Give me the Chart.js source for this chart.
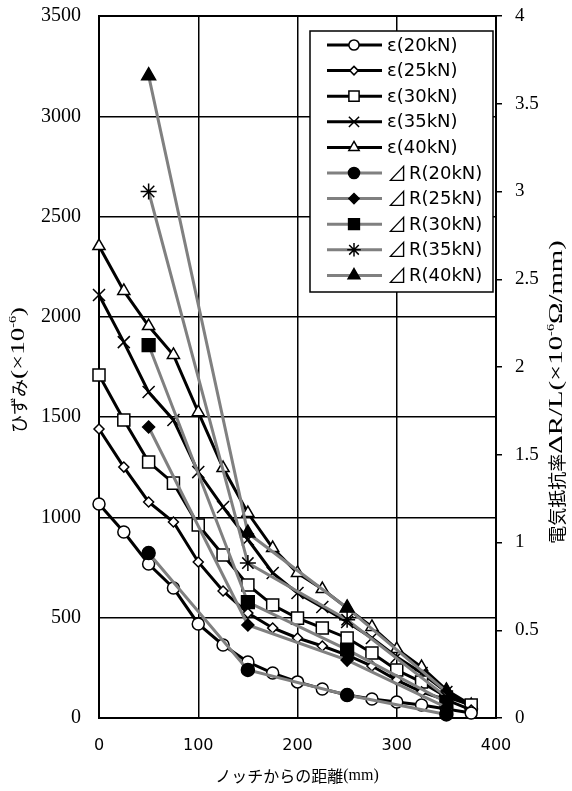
<!DOCTYPE html>
<html>
<head>
<meta charset="utf-8">
<script src="https://cdn.jsdelivr.net/npm/chart.js@4.4.0/dist/chart.umd.min.js"></script>
<style>
  html, body { margin: 0; padding: 0; background: #fff; }
</style>
</head>
<body>
<canvas id="chart" width="572" height="791"></canvas>
<script>
// jarak dari takik (mm)
const distEps = [0, 25, 50, 75, 100, 125, 150, 175, 200, 225, 250, 275, 300, 325, 350, 375];
const distR = [50, 150, 250, 350];

// regangan (x10^-6), sumbu kiri
const eps20 = [1067, 927, 768, 648, 469, 364, 279, 224, 180, 145, 115, 95, 80, 65, 45, 25];
const eps25 = [1441, 1251, 1077, 977, 778, 633, 523, 449, 399, 359, 314, 259, 189, 130, 90, 40];
const eps30 = [1710, 1486, 1276, 1171, 962, 813, 663, 563, 498, 449, 399, 324, 239, 179, 105, 65];
const eps35 = [2109, 1874, 1625, 1486, 1226, 1052, 890, 723, 623, 553, 479, 399, 304, 224, 130, 55];
const eps40 = [2353, 2129, 1954, 1810, 1525, 1246, 1022, 847, 723, 643, 548, 454, 344, 254, 140, 65];

// resistivitas dR/L (x10^-6 ohm/mm), sumbu kanan
const r20 = [0.94, 0.274, 0.131, 0.02];
const r25 = [1.658, 0.53, 0.33, 0.06];
const r30 = [2.125, 0.66, 0.39, 0.09];
const r35 = [3.0, 0.883, 0.56, 0.12];
const r40 = [3.66, 1.054, 0.627, 0.15];

const epsLabels = ['ε(20kN)', 'ε(25kN)', 'ε(30kN)', 'ε(35kN)', 'ε(40kN)'];
const rLabels = ['⊿R(20kN)', '⊿R(25kN)', '⊿R(30kN)', '⊿R(35kN)', '⊿R(40kN)'];

const leftTicks = [0, 500, 1000, 1500, 2000, 2500, 3000, 3500];
const rightTicks = [0, 0.5, 1, 1.5, 2, 2.5, 3, 3.5, 4];
const xTicks = [0, 100, 200, 300, 400];

const CJK = '"Noto Sans CJK JP"';
const SERIF = '"Liberation Serif"';
const SANS = '"DejaVu Sans"';

function toPoints(xs, ys) {
    return xs.map((x, i) => ({ x: x, y: ys[i] }));
}

function epsSet(label, data, style, radius) {
    return {
        label, data: toPoints(distEps, data), yAxisID: 'y', order: 1,
        borderColor: '#000', borderWidth: 3, pointStyle: style, pointRadius: radius,
        pointBackgroundColor: '#fff', pointBorderColor: '#000', pointBorderWidth: 1.5,
        pointHoverRadius: radius, tension: 0, clip: false
    };
}

function rSet(label, data, style, radius) {
    return {
        label, data: toPoints(distR, data), yAxisID: 'y2', order: 0,
        borderColor: '#808080', borderWidth: 3, pointStyle: style, pointRadius: radius,
        pointBackgroundColor: '#000', pointBorderColor: '#000', pointBorderWidth: 1.5,
        pointHoverRadius: radius, tension: 0, clip: false
    };
}

const datasets = [
    epsSet(epsLabels[0], eps20, 'circle', 6),
    epsSet(epsLabels[1], eps25, 'rectRot', 5),
    epsSet(epsLabels[2], eps30, 'rect', 8.5),
    epsSet(epsLabels[3], eps35, 'crossRot', 8.5),
    epsSet(epsLabels[4], eps40, 'triangle', 7),
    rSet(rLabels[0], r20, 'circle', 6.5),
    rSet(rLabels[1], r25, 'rectRot', 6),
    rSet(rLabels[2], r30, 'rect', 9),
    rSet(rLabels[3], r35, 'star', 8),
    rSet(rLabels[4], r40, 'triangle', 8)
];

// teks campuran (CJK + serif + superskrip), sx = regangan horizontal
function drawRich(ctx, parts, cx, cy, rot) {
    ctx.save();
    ctx.translate(cx, cy);
    ctx.rotate(rot);
    ctx.textBaseline = 'middle';
    ctx.textAlign = 'left';
    ctx.fillStyle = '#000';
    let total = 0;
    parts.forEach(p => {
        ctx.font = p.f;
        p.w = ctx.measureText(p.t).width * (p.sx || 1);
        total += p.w;
    });
    let x = -total / 2;
    parts.forEach(p => {
        ctx.save();
        ctx.font = p.f;
        ctx.translate(x, p.dy || 0);
        ctx.scale(p.sx || 1, 1);
        ctx.fillText(p.t, 0, 0);
        ctx.restore();
        x += p.w;
    });
    ctx.restore();
}

const framePlugin = {
    id: 'frame',
    beforeDatasetsDraw(chart) {
        const { ctx, chartArea: a } = chart;
        ctx.save();
        ctx.strokeStyle = '#000';
        ctx.lineWidth = 2;
        ctx.strokeRect(a.left, a.top, a.right - a.left, a.bottom - a.top);
        ctx.restore();
    }
};

const titlePlugin = {
    id: 'axisTitles',
    afterDraw(chart) {
        const ctx = chart.ctx;
        drawRich(ctx, [
            { t: 'ノッチからの距離', f: '16px ' + CJK },
            { t: '(mm)', f: '16px ' + SERIF }
        ], 297, 776, 0);
        drawRich(ctx, [
            { t: 'ひずみ', f: '18px ' + CJK },
            { t: '(×10', f: '18px ' + SERIF, sx: 1.5 },
            { t: '-6', f: '11px ' + SERIF, dy: -6, sx: 1.3 },
            { t: ')', f: '18px ' + SERIF, sx: 1.5 }
        ], 19, 370, -Math.PI / 2);
        drawRich(ctx, [
            { t: '電気抵抗率', f: '18px ' + CJK },
            { t: 'ΔR/L(×10', f: '18px ' + SERIF, sx: 1.6 },
            { t: '-6', f: '11px ' + SERIF, dy: -6, sx: 1.3 },
            { t: 'Ω/mm)', f: '18px ' + SERIF, sx: 1.6 }
        ], 557, 392, -Math.PI / 2);
    }
};

const legendPlugin = {
    id: 'boxLegend',
    afterDatasetsDraw(chart) {
        const ctx = chart.ctx;
        const bx = 310, by = 31, bw = 183, bh = 261;
        ctx.save();
        ctx.fillStyle = '#fff';
        ctx.fillRect(bx, by, bw, bh);
        ctx.strokeStyle = '#000';
        ctx.lineWidth = 1.5;
        ctx.strokeRect(bx, by, bw, bh);
        chart.data.datasets.forEach((ds, i) => {
            const y = 45 + i * 25.6;
            ctx.strokeStyle = ds.borderColor;
            ctx.lineWidth = ds.borderWidth;
            ctx.beginPath();
            ctx.moveTo(327, y);
            ctx.lineTo(382, y);
            ctx.stroke();
            ctx.fillStyle = ds.pointBackgroundColor;
            ctx.strokeStyle = ds.pointBorderColor;
            ctx.lineWidth = ds.pointBorderWidth;
            Chart.helpers.drawPoint(ctx, {
                pointStyle: ds.pointStyle, radius: ds.pointRadius * 0.85,
                borderWidth: ds.pointBorderWidth, rotation: 0
            }, 354, y);
            ctx.fillStyle = '#000';
            ctx.textBaseline = 'middle';
            ctx.textAlign = 'left';
            let tx = 387;
            let txt = ds.label;
            if (txt.startsWith('⊿')) {
                ctx.font = '20px ' + CJK;
                ctx.fillText('⊿', tx, y);
                tx += 22;
                txt = txt.slice(1);
            }
            ctx.font = '18px ' + SANS;
            ctx.fillText(txt, tx, y + 1);
        });
        ctx.restore();
    }
};

// buang padding label otomatis supaya area plot tepat
function noPad(s) {
    s.paddingTop = 0; s.paddingBottom = 0; s.paddingLeft = 0; s.paddingRight = 0;
}

new Chart(document.getElementById('chart'), {
    type: 'line',
    data: { datasets },
    options: {
        responsive: false,
        animation: false,
        events: [],
        layout: { padding: { top: 16, left: 0, right: 0, bottom: 0 } },
        plugins: { legend: { display: false }, tooltip: { enabled: false } },
        scales: {
            x: {
                type: 'linear', min: 0, max: 400,
                afterBuildTicks: s => { s.ticks = xTicks.map(v => ({ value: v })); },
                afterFit: s => { s.height = 73; noPad(s); },
                ticks: { color: '#000', font: { family: SANS, size: 16 }, padding: 18, callback: v => String(v) },
                grid: { color: '#000', lineWidth: 1.5, drawTicks: false },
                border: { display: false }
            },
            y: {
                type: 'linear', position: 'left', min: 0, max: 3500,
                afterBuildTicks: s => { s.ticks = leftTicks.map(v => ({ value: v })); },
                afterFit: s => { s.width = 99; noPad(s); },
                ticks: { color: '#000', font: { family: SERIF, size: 20 }, padding: 18, callback: v => String(v) },
                grid: { color: '#000', lineWidth: 1.5, drawTicks: false },
                border: { display: false }
            },
            y2: {
                type: 'linear', position: 'right', min: 0, max: 4,
                afterBuildTicks: s => { s.ticks = rightTicks.map(v => ({ value: v })); },
                afterFit: s => { s.width = 76; noPad(s); },
                ticks: { color: '#000', font: { family: SERIF, size: 19 }, padding: 13, callback: v => String(v) },
                grid: { drawOnChartArea: false, drawTicks: true, tickLength: 6, color: '#000', lineWidth: 1.5 },
                border: { display: false }
            }
        }
    },
    plugins: [framePlugin, legendPlugin, titlePlugin]
});
</script>
</body>
</html>
